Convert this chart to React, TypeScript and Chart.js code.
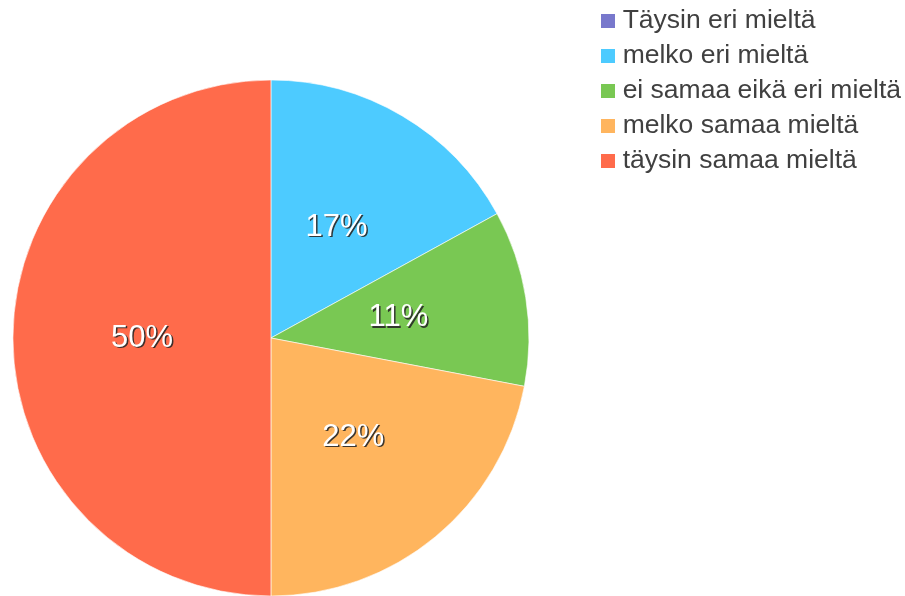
import React, { useEffect, useRef } from "react";
import { Chart, registerables } from "chart.js";

Chart.register(...registerables);

const categories = [
  "Täysin eri mieltä",
  "melko eri mieltä",
  "ei samaa eikä eri mieltä",
  "melko samaa mieltä",
  "täysin samaa mieltä",
];
const values = [0, 17, 11, 22, 50];
const colors = ["#7878cc", "#4dcbff", "#79c853", "#ffb55e", "#ff6b4b"];

const FONT = '"Liberation Sans", Arial, sans-serif';

function swatch(color: string) {
  const c = document.createElement("canvas");
  c.width = 14;
  c.height = 14;
  const g = c.getContext("2d")!;
  g.fillStyle = color;
  g.fillRect(0, 0, 14, 14);
  return c;
}

const pctLabels = {
  id: "pctLabels",
  afterDatasetsDraw(chart: any) {
    const ctx = chart.ctx;
    const meta = chart.getDatasetMeta(0);
    const data = chart.data.datasets[0].data as number[];
    const total = data.reduce((a, b) => a + b, 0);
    ctx.save();
    ctx.font = `31px ${FONT}`;
    ctx.textAlign = "center";
    ctx.textBaseline = "middle";
    meta.data.forEach((arc: any, i: number) => {
      const v = data[i];
      if (!v) return;
      const { x, y } = arc.tooltipPosition(false);
      const text = Math.round((v / total) * 100) + "%";
      ctx.fillStyle = "rgba(40,40,40,0.9)";
      ctx.fillText(text, x + 1.5, y + 1.5);
      ctx.fillStyle = "#ffffff";
      ctx.fillText(text, x, y);
    });
    ctx.restore();
  },
};

export default function App() {
  const ref = useRef<HTMLCanvasElement>(null);
  useEffect(() => {
    document.body.style.margin = "0";
    const swatches = colors.map(swatch);
    const chart = new Chart(ref.current!, {
      type: "pie",
      data: {
        labels: categories,
        datasets: [
          {
            data: values,
            backgroundColor: colors,
            borderColor: "rgba(255,255,255,0.6)",
            borderWidth: 1,
            radius: 258,
          },
        ],
      },
      options: {
        animation: false,
        responsive: false,
        maintainAspectRatio: false,
        layout: { padding: 0 },
        plugins: {
          tooltip: { enabled: false },
          legend: {
            position: "right",
            align: "start",
            labels: {
              usePointStyle: true,
              boxWidth: 2,
              boxHeight: 14,
              padding: 8.5,
              color: "#404040",
              font: { size: 26.5, family: FONT },
              generateLabels(ch: any) {
                const items = Chart.overrides.pie.plugins.legend.labels.generateLabels(ch);
                return items.map((it: any, i: number) => ({ ...it, pointStyle: swatches[i] }));
              },
            },
          },
        },
      },
      plugins: [pctLabels],
    });
    return () => chart.destroy();
  }, []);
  return (
    <div style={{ position: "relative", width: 905, height: 596, overflow: "hidden", background: "#fff" }}>
      <canvas
        ref={ref}
        width={968}
        height={678}
        style={{ position: "absolute", left: -57, top: -1, width: 968, height: 678 }}
      />
    </div>
  );
}
